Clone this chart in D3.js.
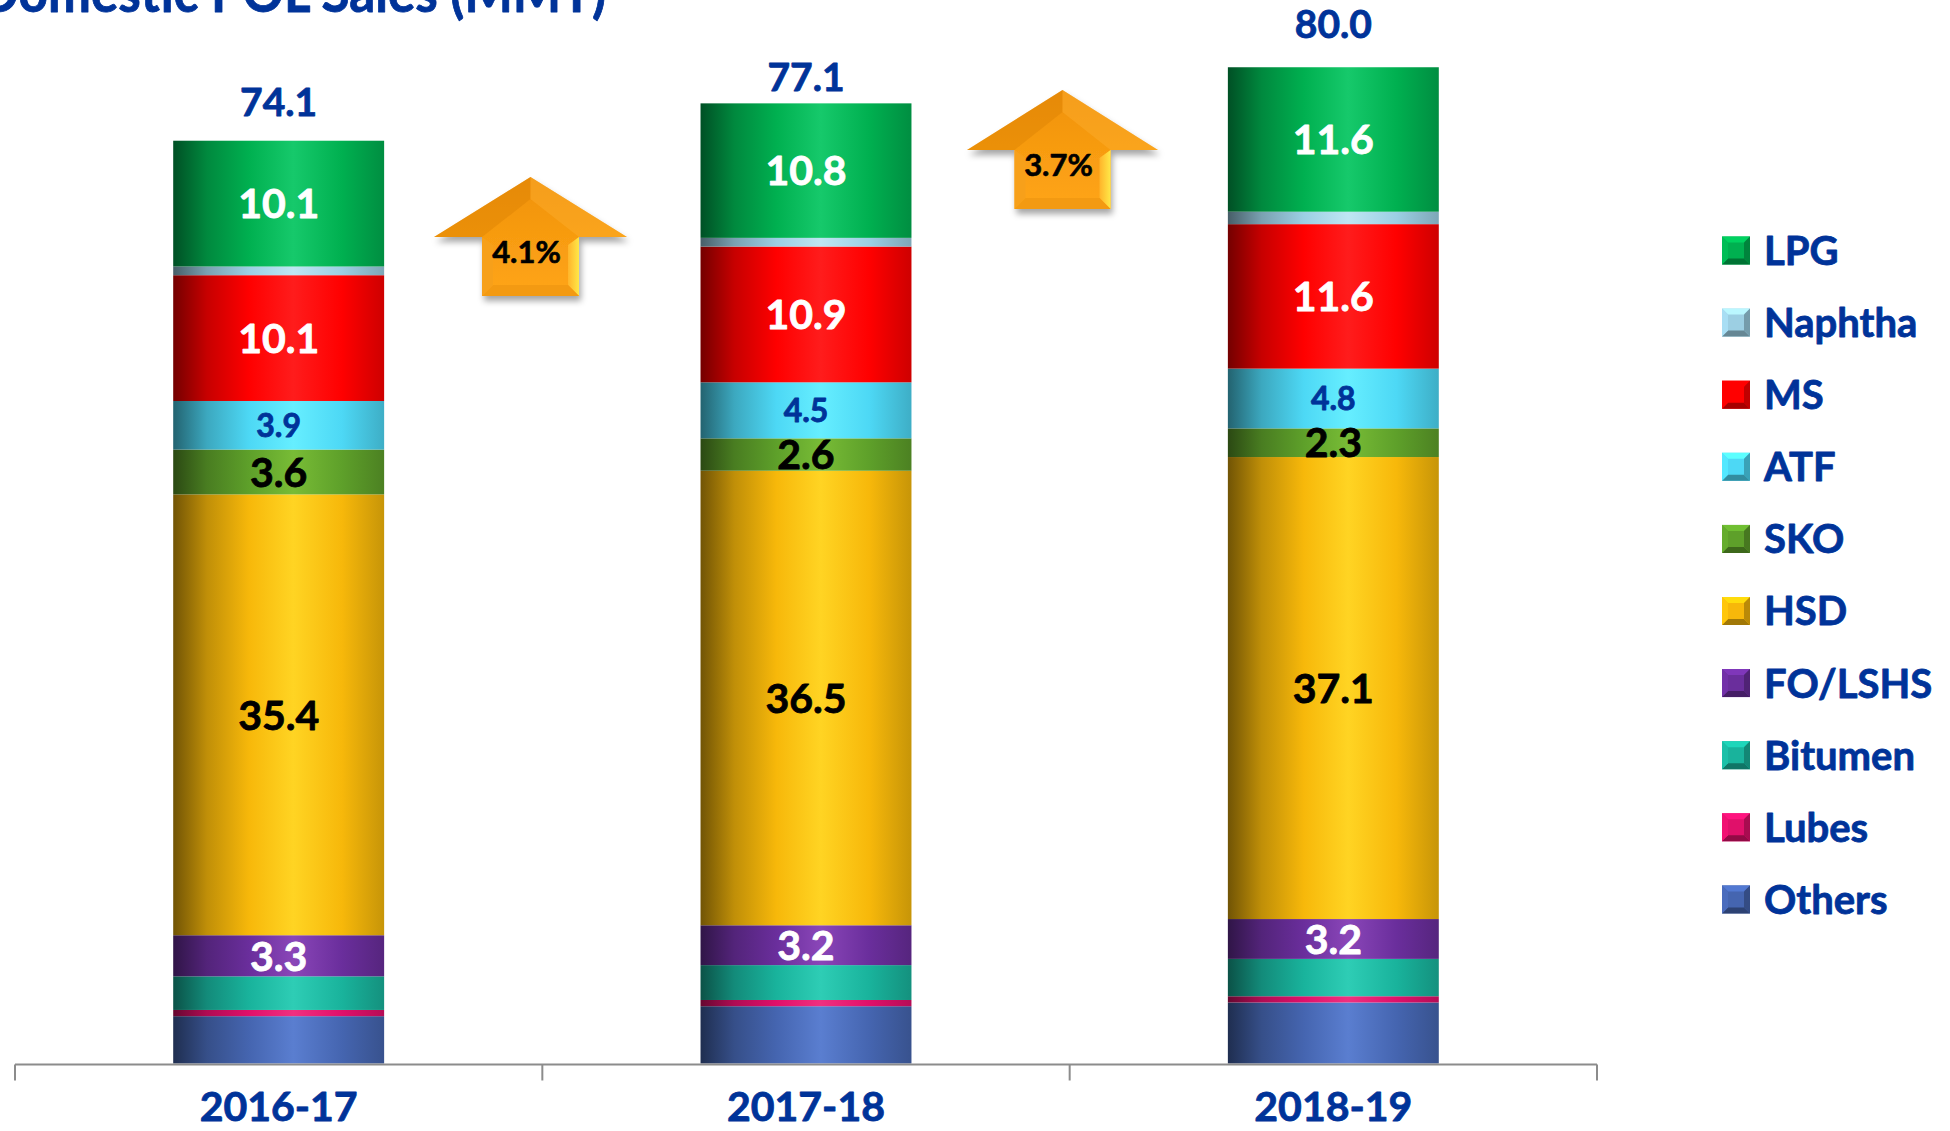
<!DOCTYPE html>
<html>
<head>
<meta charset="utf-8">
<script src="https://cdn.jsdelivr.net/npm/d3@7"></script>
<style>
body { margin: 0; background: #fff; overflow: hidden; }
svg { display: block; font-family: Lato, "Open Sans", sans-serif; font-weight: bold; }
.heavy { paint-order: stroke; stroke-linejoin: round; }
</style>
</head>
<body>
<div id="chart"></div>
<script>
// data (MMT)
const years = ["2016-17", "2017-18", "2018-19"]
const products = ["LPG", "Naphtha", "MS", "ATF", "SKO", "HSD", "FO/LSHS", "Bitumen", "Lubes", "Others"]
const lpg = [10.1, 10.8, 11.6]
const naphtha = [0.7, 0.7, 1.0]
const ms = [10.1, 10.9, 11.6]
const atf = [3.9, 4.5, 4.8]
const sko = [3.6, 2.6, 2.3]
const hsd = [35.4, 36.5, 37.1]
const fo = [3.3, 3.2, 3.2]
const bitumen = [2.7, 2.8, 3.0]
const lubes = [0.5, 0.5, 0.5]
const others = [3.8, 4.6, 4.9]
const totals = [74.1, 77.1, 80.0]
const growth = ["4.1%", "3.7%"]

const blue = "#003399"
const W = 1950, H = 1131

// colours, same order as products
const base_col = ["#00b050", "#9ccfe3", "#ff0000", "#4dd8f5", "#5ea02a", "#f7b80a", "#6a2e9c", "#19b39c", "#e0106a", "#4565b0"]
const hi_col = ["#16c96b", "#bfe6f3", "#ff1c1c", "#66eeff", "#78bc36", "#ffd423", "#8a46b8", "#2ecdb5", "#f0307f", "#5a7ed0"]
// segment labels: which get one, and how they look
const lab_fill = {"LPG": "#fff", "MS": "#fff", "ATF": blue, "SKO": "#000", "HSD": "#000", "FO/LSHS": "#fff"}
const lab_size = {"LPG": 41, "MS": 41, "ATF": 32, "SKO": 41, "HSD": 41, "FO/LSHS": 41}

const series_vals = [lpg, naphtha, ms, atf, sko, hsd, fo, bitumen, lubes, others]
var rows = years.map(function(yr, i){
	var r = {year: yr}
	products.forEach(function(p, j){ r[p] = series_vals[j][i] })
	return r
})

var svg = d3.select("#chart")
	.append("svg")
	.attr("width", W)
	.attr("height", H)

var defs = svg.append("defs")

var x = d3.scaleBand()
	.domain(years)
	.range([15, 1597])
	.paddingInner(0.6)
	.paddingOuter(0.3)

var y = d3.scaleLinear()
	.domain([0, 85.4])
	.range([1063.5, 0])

// cylinder look for each product
products.forEach(function(p, j){
	var c = d3.color(base_col[j])
	var g = defs.append("linearGradient")
		.attr("id", "grad" + j)
		.attr("x1", "0%").attr("x2", "100%")
		.attr("y1", "0%").attr("y2", "0%")
	var stops = [[0, c.darker(2.2)], [0.16, c.darker(0.7)], [0.36, c], [0.57, hi_col[j]], [0.8, c], [1, c.darker(0.6)]]
	stops.forEach(function(s){
		g.append("stop").attr("offset", s[0]).attr("stop-color", String(s[1]))
	})
})

// stack from bottom: Others first
var stack_keys = products.slice().reverse()
var stacked = d3.stack().keys(stack_keys)(rows)

var bars = svg.append("g").attr("class", "bars")
stacked.forEach(function(layer){
	var j = products.indexOf(layer.key)
	bars.selectAll(null)
		.data(layer)
		.enter()
		.append("rect")
		.attr("x", function(d){ return x(d.data.year) })
		.attr("width", x.bandwidth())
		.attr("y", function(d){ return y(d[1]) })
		.attr("height", function(d){ return y(d[0]) - y(d[1]) })
		.attr("fill", "url(#grad" + j + ")")
})

// segment labels
stacked.forEach(function(layer){
	if (!(layer.key in lab_fill)) return
	bars.selectAll(null)
		.data(layer)
		.enter()
		.append("text")
		.attr("class", "heavy")
		.attr("x", function(d){ return x(d.data.year) + x.bandwidth()/2 })
		.attr("y", function(d){ return (y(d[0]) + y(d[1]))/2 })
		.attr("dy", "0.36em")
		.attr("text-anchor", "middle")
		.attr("font-size", lab_size[layer.key])
		.attr("fill", lab_fill[layer.key])
		.attr("stroke", lab_fill[layer.key])
		.attr("stroke-width", 0.8)
		.text(function(d){ return (d[1] - d[0]).toFixed(1) })
})

// totals on top (lifted by hand in the source, so the gap differs)
const total_gap = [25, 12, 29]
svg.selectAll(".total")
	.data(totals)
	.enter()
	.append("text")
	.attr("class", "total heavy")
	.attr("x", function(d, i){ return x(years[i]) + x.bandwidth()/2 })
	.attr("y", function(d, i){ return y(d) - total_gap[i] })
	.attr("text-anchor", "middle")
	.attr("font-size", 39)
	.attr("fill", blue)
	.attr("stroke", blue)
	.attr("stroke-width", 0.8)
	.text(function(d){ return d.toFixed(1) })

// category axis
var axis_y = y(0) + 1
svg.append("line")
	.attr("x1", 15).attr("x2", 1597)
	.attr("y1", axis_y).attr("y2", axis_y)
	.attr("stroke", "#8c8c8c")
	.attr("stroke-width", 2)
for (i = 0; i <= years.length; i++){
	var tx = 15 + i*x.step()
	svg.append("line")
		.attr("x1", tx).attr("x2", tx)
		.attr("y1", axis_y).attr("y2", axis_y + 16)
		.attr("stroke", "#8c8c8c")
		.attr("stroke-width", 2)
}
svg.selectAll(".cat")
	.data(years)
	.enter()
	.append("text")
	.attr("class", "cat heavy")
	.attr("x", function(d){ return x(d) + x.bandwidth()/2 })
	.attr("y", 1121)
	.attr("text-anchor", "middle")
	.attr("font-size", 41)
	.attr("fill", blue)
	.attr("stroke", blue)
	.attr("stroke-width", 0.8)
	.text(function(d){ return d })

// title, cut at top edge like the slide
svg.append("text")
	.attr("class", "heavy")
	.attr("x", -20)
	.attr("y", 12)
	.attr("font-size", 56)
	.attr("textLength", 626)
	.attr("lengthAdjust", "spacingAndGlyphs")
	.attr("fill", blue)
	.attr("stroke", blue)
	.attr("stroke-width", 0.8)
	.text("Domestic POL Sales (MMT)")

// growth arrows
var sh = defs.append("filter").attr("id", "shadow").attr("x", "-20%").attr("y", "-20%").attr("width", "140%").attr("height", "150%")
sh.append("feDropShadow").attr("dx", 2).attr("dy", 5).attr("stdDeviation", 3).attr("flood-color", "#000").attr("flood-opacity", 0.35)
var ag = defs.append("linearGradient").attr("id", "arrowGrad").attr("x1", 0).attr("x2", 0).attr("y1", 0).attr("y2", 1)
ag.append("stop").attr("offset", 0).attr("stop-color", "#f0920c")
ag.append("stop").attr("offset", 1).attr("stop-color", "#ffa516")
var bg = defs.append("linearGradient").attr("id", "bevelGrad").attr("x1", 0).attr("x2", 1).attr("y1", 0).attr("y2", 0)
bg.append("stop").attr("offset", 0).attr("stop-color", "#ffb42a")
bg.append("stop").attr("offset", 1).attr("stop-color", "#ffe848")

const arrow_cx = [530.5, 1062.5]
const arrow_top = [177, 90]
const arrow_w = [193, 191]
const shaft_w = [97, 96]
const head_h = 60
const arrow_h = 119

function draw_arrow(cx, top, w, sw, label){
	var hb = top + head_h, bot = top + arrow_h, b = 11
	var g = svg.append("g")
	var pts = [[cx, top], [cx + w/2, hb], [cx + sw/2, hb], [cx + sw/2, bot], [cx - sw/2, bot], [cx - sw/2, hb], [cx - w/2, hb]]
	g.append("polygon")
		.attr("points", pts.join(" "))
		.attr("fill", "url(#arrowGrad)")
		.attr("filter", "url(#shadow)")
	// left half of head, in shade
	g.append("polygon")
		.attr("points", [[cx, top], [cx - w/2, hb], [cx - sw/2, hb], [cx, top + 22]].join(" "))
		.attr("fill", "#d47a00")
		.attr("opacity", 0.35)
	// right half of head, lit
	g.append("polygon")
		.attr("points", [[cx, top], [cx + w/2, hb], [cx + sw/2, hb], [cx, top + 22]].join(" "))
		.attr("fill", "#ffb43a")
		.attr("opacity", 0.35)
	// bevel on right of shaft
	g.append("polygon")
		.attr("points", [[cx + sw/2 - b, hb + 8], [cx + sw/2, hb], [cx + sw/2, bot], [cx + sw/2 - b, bot - b]].join(" "))
		.attr("fill", "url(#bevelGrad)")
	// bevel at foot
	g.append("polygon")
		.attr("points", [[cx - sw/2, bot], [cx - sw/2 + b, bot - b], [cx + sw/2 - b, bot - b], [cx + sw/2, bot]].join(" "))
		.attr("fill", "#f39a12")
	g.append("polygon")
		.attr("points", [[cx - sw/2, hb], [cx - sw/2 + b, hb + 8], [cx - sw/2 + b, bot - b], [cx - sw/2, bot]].join(" "))
		.attr("fill", "#f7a01a")
	g.append("text")
		.attr("class", "heavy")
		.attr("x", cx - 4)
		.attr("y", top + 75)
		.attr("dy", "0.36em")
		.attr("text-anchor", "middle")
		.attr("font-size", 31)
		.attr("fill", "#000")
		.attr("stroke", "#000")
		.attr("stroke-width", 0.6)
		.text(label)
}
growth.forEach(function(lbl, i){
	draw_arrow(arrow_cx[i], arrow_top[i], arrow_w[i], shaft_w[i], lbl)
})

// legend, LPG on top
var leg_x = 1722, leg_y0 = 250.5, leg_dy = 72.1, sq = 28
var leg = svg.append("g").attr("class", "legend")
products.forEach(function(p, j){
	var cy = leg_y0 + j*leg_dy
	var c = d3.color(base_col[j])
	var x0 = leg_x, y0 = cy - sq/2, x1 = leg_x + sq, y1 = cy + sq/2, e = 6
	leg.append("rect").attr("x", x0).attr("y", y0).attr("width", sq).attr("height", sq).attr("fill", String(c))
	leg.append("polygon").attr("points", [[x0, y0], [x1, y0], [x1 - e, y0 + e], [x0 + e, y0 + e]].join(" ")).attr("fill", String(c.brighter(0.5)))
	leg.append("polygon").attr("points", [[x0, y1], [x1, y1], [x1 - e, y1 - e], [x0 + e, y1 - e]].join(" ")).attr("fill", String(c.darker(1.2)))
	leg.append("polygon").attr("points", [[x0, y0], [x0 + e, y0 + e], [x0 + e, y1 - e], [x0, y1]].join(" ")).attr("fill", String(c.brighter(0.2)))
	leg.append("polygon").attr("points", [[x1, y0], [x1 - e, y0 + e], [x1 - e, y1 - e], [x1, y1]].join(" ")).attr("fill", String(c.darker(0.8)))
	leg.append("text")
		.attr("class", "heavy")
		.attr("x", leg_x + 42)
		.attr("y", cy)
		.attr("dy", "0.36em")
		.attr("font-size", 40)
		.attr("fill", blue)
		.attr("stroke", blue)
		.attr("stroke-width", 0.8)
		.text(p)
})
</script>
</body>
</html>
